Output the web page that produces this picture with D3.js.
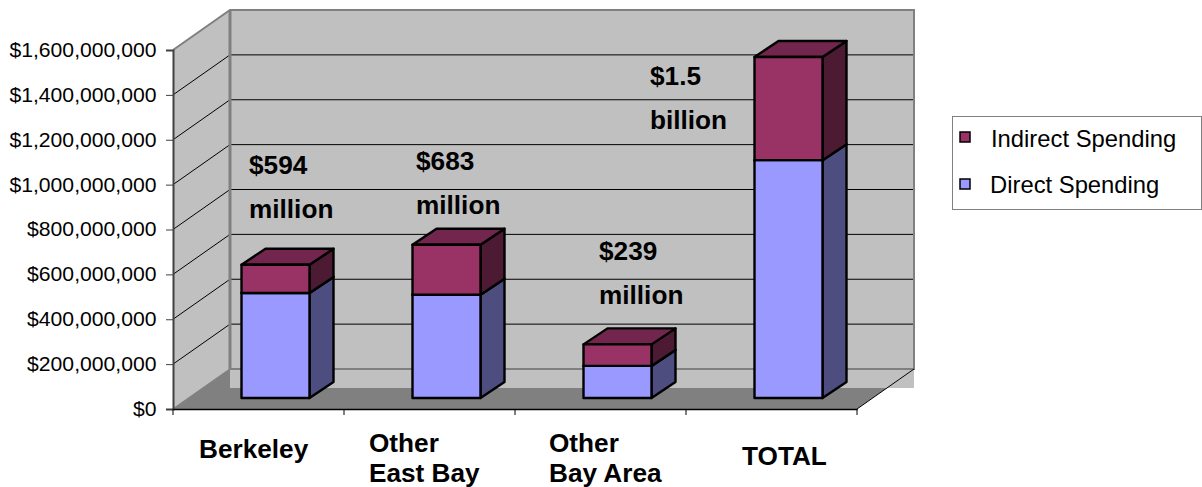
<!DOCTYPE html>
<html>
<head>
<meta charset="utf-8">
<style>
html,body{margin:0;padding:0;background:#fff;overflow:hidden}
svg{display:block}
text{font-family:"Liberation Sans",Arial,sans-serif;fill:#000}
</style>
<script src="https://cdnjs.cloudflare.com/ajax/libs/d3/7.9.0/d3.min.js"></script>
</head>
<body>
<svg id="chart" width="1202" height="487"></svg>
<script>
// Spending by area, in dollars
const categories = ["Berkeley", "Other East Bay", "Other Bay Area", "TOTAL"];
const directSpending = [468e6, 460e6, 143e6, 1060e6];
const indirectSpending = [126e6, 223e6, 96e6, 460e6];
const seriesNames = ["Direct Spending", "Indirect Spending"];
const legendOrder = ["Indirect Spending", "Direct Spending"];
const yTicks = [0, 2e8, 4e8, 6e8, 8e8, 10e8, 12e8, 14e8, 16e8];
const categoryLines = [["Berkeley"], ["Other", "East Bay"], ["Other", "Bay Area"], ["TOTAL"]];
const calloutLines = [["$594", "million"], ["$683", "million"], ["$239", "million"], ["$1.5", "billion"]];

// Layout of the pseudo-3D box
const wallDepth = {dx: 57, dy: -40};
const barDepth = {dx: 24, dy: -16};
const barInset = {dx: 17, dy: -11};
const plot = {left: 173, right: 857, top: 50, bottom: 409};
const backRight = plot.right + wallDepth.dx;
const backLeft = plot.left + wallDepth.dx;
const backBottom = plot.bottom + wallDepth.dy;
const wallSkirt = 388;

const svg = d3.select("#chart");
const y = d3.scaleLinear().domain([0, 16e8]).range([plot.bottom, plot.top]);
const x = d3.scaleBand().domain(categories).range([plot.left, plot.right]);
const barWidth = 68;

const poly = pts => pts.map(p => p.join(",")).join(" ");
const grey = "#c0c0c0", wallEdge = "#808080";

// Walls and floor
svg.append("rect").attr("x", backLeft).attr("y", plot.top + wallDepth.dy)
  .attr("width", backRight - backLeft).attr("height", wallSkirt - plot.top - wallDepth.dy)
  .attr("fill", grey);
svg.append("polygon").attr("fill", grey)
  .attr("points", poly([[plot.left, plot.top], [backLeft, plot.top + wallDepth.dy], [backLeft, backBottom], [plot.left, plot.bottom]]));
const floorSlope = wallDepth.dx / wallDepth.dy;
svg.append("polygon").attr("fill", "#808080")
  .attr("points", poly([
    [plot.left, plot.bottom], [backLeft, backBottom], [backLeft, wallSkirt],
    [plot.right + (wallSkirt - plot.bottom) * floorSlope, wallSkirt], [plot.right, plot.bottom]
  ]));

// Gridlines across the side wall and the back wall
yTicks.slice(1, -1).forEach(t => {
  svg.append("polyline").attr("fill", "none").attr("stroke", "#000").attr("stroke-width", 1)
    .attr("points", poly([[plot.left, y(t)], [backLeft, y(t) + wallDepth.dy], [backRight, y(t) + wallDepth.dy]]));
});
svg.append("polyline").attr("fill", "none").attr("stroke", wallEdge).attr("stroke-width", 2)
  .attr("points", poly([[plot.left, plot.top], [backLeft, plot.top + wallDepth.dy], [backRight, plot.top + wallDepth.dy], [backRight, backBottom], [backLeft, backBottom]]));
svg.append("line").attr("stroke", wallEdge).attr("stroke-width", 3)
  .attr("x1", backLeft).attr("x2", backLeft).attr("y1", plot.top + wallDepth.dy).attr("y2", backBottom);
svg.append("line").attr("stroke", wallEdge).attr("stroke-width", 1.5)
  .attr("x1", plot.left).attr("x2", backLeft).attr("y1", plot.bottom).attr("y2", backBottom);
svg.append("line").attr("stroke", "#000").attr("stroke-width", 1)
  .attr("x1", plot.right).attr("x2", backRight).attr("y1", plot.bottom).attr("y2", backBottom);

// Stacked boxes
const rows = categories.map((c, i) => ({category: c, [seriesNames[0]]: directSpending[i], [seriesNames[1]]: indirectSpending[i]}));
const stacked = d3.stack().keys(seriesNames)(rows);
const faces = {
  "Direct Spending": {front: "#9999ff", side: "#4d4d80", top: "#73739f"},
  "Indirect Spending": {front: "#993366", side: "#4d1a33", top: "#73264d"}
};
categories.forEach((c, i) => {
  const x0 = x(c) + x.bandwidth() / 2 - barWidth / 2 + barInset.dx;
  const x1 = x0 + barWidth;
  stacked.forEach(layer => {
    const [v0, v1] = layer[i];
    const yb = y(v0) + barInset.dy, yt = y(v1) + barInset.dy;
    const f = faces[layer.key];
    const g = svg.append("g").attr("stroke", "#000").attr("stroke-width", 2.4).attr("stroke-linejoin", "round");
    g.append("polygon").attr("fill", f.side)
      .attr("points", poly([[x1, yb], [x1 + barDepth.dx, yb + barDepth.dy], [x1 + barDepth.dx, yt + barDepth.dy], [x1, yt]]));
    g.append("polygon").attr("fill", f.top)
      .attr("points", poly([[x0, yt], [x0 + barDepth.dx, yt + barDepth.dy], [x1 + barDepth.dx, yt + barDepth.dy], [x1, yt]]));
    g.append("rect").attr("fill", f.front).attr("x", x0).attr("y", yt).attr("width", barWidth).attr("height", yb - yt);
  });
});

// Value axis, with slightly widened numerals
const yAxis = d3.axisLeft(y).tickValues(yTicks).tickFormat(d3.format("$,")).tickSize(7).tickPadding(9.5);
const yG = svg.append("g").attr("transform", `translate(${plot.left},0)`).call(yAxis);
yG.select(".domain").attr("stroke", "#404040").attr("stroke-width", 2);
yG.selectAll(".tick line").attr("stroke", "#404040");
yG.selectAll("text")
  .attr("font-size", 20).attr("font-family", '"Liberation Sans",Arial,sans-serif').attr("fill", "#000")
  .each(function () {
    d3.select(this).attr("lengthAdjust", "spacingAndGlyphs")
      .attr("textLength", this.getComputedTextLength() * 1.058);
  });

// Category axis
const xAxis = d3.axisBottom(x).tickValues([]).tickSizeOuter(0);
const xG = svg.append("g").attr("transform", `translate(0,${plot.bottom})`).call(xAxis);
xG.select(".domain").attr("stroke", "#000").attr("stroke-width", 1.5);
categories.concat([null]).forEach(c => {
  const px = c ? x(c) : plot.right;
  xG.append("line").attr("x1", px).attr("x2", px).attr("y1", 0).attr("y2", 6).attr("stroke", "#000");
});

// Category labels
const catPos = [[199, 458], [369, 451.5], [549, 451.5], [742, 465]];
const boldSize = 26.2;
categoryLines.forEach((lines, i) => {
  lines.forEach((t, j) => {
    svg.append("text").attr("x", catPos[i][0]).attr("y", catPos[i][1] + j * 30)
      .attr("font-size", boldSize).attr("font-weight", "bold").text(t);
  });
});

// Value callouts above the boxes
const calloutPos = [[249, 174], [416, 170], [599, 260], [650, 85]];
calloutLines.forEach((lines, i) => {
  lines.forEach((t, j) => {
    svg.append("text").attr("x", calloutPos[i][0]).attr("y", calloutPos[i][1] + j * 43.5)
      .attr("font-size", boldSize).attr("font-weight", "bold").text(t);
  });
});

// Legend
svg.append("rect").attr("x", 952.5).attr("y", 116.5).attr("width", 249).attr("height", 93)
  .attr("fill", "#fff").attr("stroke", "#808080").attr("stroke-width", 1);
const legendPos = [{sy: 132, tx: 991, ty: 147}, {sy: 179, tx: 990, ty: 193}];
legendOrder.forEach((name, i) => {
  svg.append("rect").attr("x", 960).attr("y", legendPos[i].sy).attr("width", 10).attr("height", 10)
    .attr("fill", faces[name].front).attr("stroke", "#000").attr("stroke-width", 1.5);
  svg.append("text").attr("x", legendPos[i].tx).attr("y", legendPos[i].ty).attr("font-size", 23.8).text(name);
});
</script>
</body>
</html>
